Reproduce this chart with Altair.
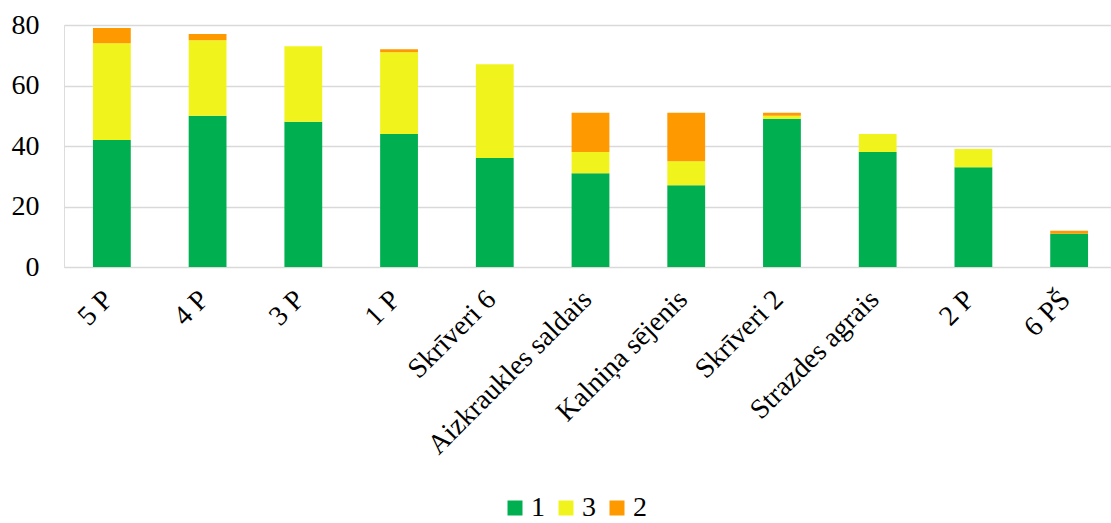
import altair as alt
import pandas as pd

categories = ["5 P", "4 P", "3 P", "1 P", "Skrīveri 6", "Aizkraukles saldais",
              "Kalniņa sējenis", "Skrīveri 2", "Strazdes agrais", "2 P", "6 PŠ"]
series_names = ["1", "3", "2"]
s1 = [42, 50, 48, 44, 36, 31, 27, 49, 38, 33, 11]
s3 = [32, 25, 25, 27, 31, 7, 8, 1, 6, 6, 0]
s2 = [5, 2, 0, 1, 0, 13, 16, 1, 0, 0, 1]
colors = ["#00B050", "#F0F41C", "#FF9900"]
y_ticks = [0, 20, 40, 60, 80]

rows = []
for name, vals in zip(series_names, [s1, s3, s2]):
    for c, v in zip(categories, vals):
        rows.append({"cat": c, "series": name, "value": v, "ord": series_names.index(name)})
df = pd.DataFrame(rows)

FONT = "Liberation Serif"

chart = alt.Chart(df).mark_bar().encode(
    x=alt.X("cat:N", sort=categories, title=None,
            scale=alt.Scale(paddingInner=0.605, paddingOuter=0.3025, range=[0, 1053]),
            axis=alt.Axis(labelAngle=-45, labelFontSize=28, labelFont=FONT, labelColor="#000000",
                          labelBaseline="middle", labelAlign="right", labelOffset=-3,
                          domain=False, ticks=False, labelPadding=28, labelLimit=400)),
    y=alt.Y("value:Q", stack="zero", title=None,
            scale=alt.Scale(domain=[0, 80], nice=False),
            axis=alt.Axis(values=y_ticks, labelFontSize=28, labelFont=FONT, labelColor="#000000",
                          domain=False, ticks=False, labelPadding=25,
                          gridColor="#D9D9D9", gridWidth=1.5)),
    color=alt.Color("series:N", sort=series_names,
                    scale=alt.Scale(domain=series_names, range=colors),
                    legend=alt.Legend(title=None, orient="none", direction="horizontal",
                                      legendX=437, legendY=469, padding=0, symbolType="square",
                                      symbolSize=225, symbolStrokeWidth=0,
                                      labelFontSize=28, labelFont=FONT, labelColor="#000000",
                                      columnPadding=7, labelOffset=2)),
    order=alt.Order("ord:Q", sort="ascending"),
).properties(
    width=1047, height=242,
    autosize=alt.AutoSizeParams(type="none"),
    padding={"left": 64, "top": 25, "right": 0, "bottom": 256},
).configure_view(stroke=None).configure(background="#FFFFFF")

chart.save("out.html", embed_options={"renderer": "svg", "actions": False})
